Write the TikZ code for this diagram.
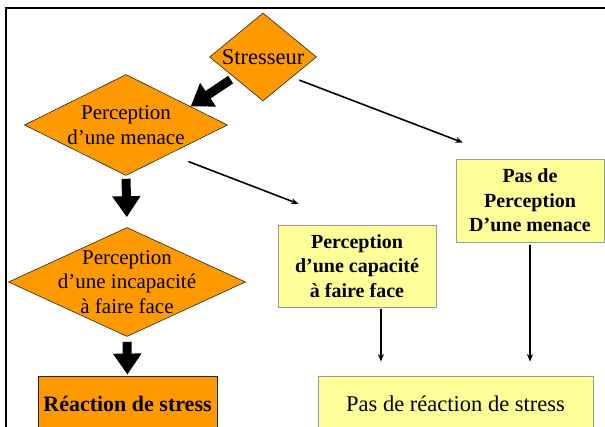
\documentclass[tikz,border=0pt]{standalone}
\usepackage{fontspec}
\setmainfont{Liberation Serif}
\usetikzlibrary{arrows.meta,shapes.geometric,calc}
\definecolor{stressorange}{RGB}{255,153,0}
\definecolor{calmyellow}{RGB}{255,255,153}

\begin{document}
\begin{tikzpicture}[x=1pt,y=-1pt,line cap=round,
                    decision/.style={diamond,fill=stressorange,draw=black!85,line width=0.6pt,inner sep=0pt},
                    dtext/.style={align=center,inner sep=0pt,font=\fontsize{21}{24.5}\selectfont},
                    calmbox/.style={rectangle,fill=calmyellow,draw=black!40,line width=0.8pt,inner sep=0pt,align=center},
                    hotbox/.style={rectangle,fill=stressorange,draw=black!85,line width=0.8pt,inner sep=0pt,align=center},
                    big/.style={-{Triangle[width=27pt,length=21pt]},line width=9pt,line cap=butt},
                    link/.style={-{Stealth[length=7.5pt,width=6pt]},line width=1.6pt},
                ]
  \clip (0,0) rectangle (605,427);
  % frame
  \draw[line width=2pt] (6,440) -- (6,8) -- (620,8);

  % orange decisions
  \node[decision,minimum width=107pt,minimum height=88pt]  (str) at (263,57)  {};
  \node[dtext,font=\fontsize{22.5}{26}\selectfont]        (strt) at (str)   {Stresseur};
  \node[decision,minimum width=203pt,minimum height=101pt] (m1)  at (126,125) {};
  \node[dtext]                                            (m1t) at (m1)    {Perception\\d’une menace};
  \node[decision,minimum width=237pt,minimum height=109pt] (m2)  at (127,282) {};
  \node[dtext]                                            (m2t) at (m2)    {Perception\\d’une incapacité\\à faire face};
  \node[hotbox,minimum width=179pt,minimum height=56pt,font=\bfseries\fontsize{22}{26}\selectfont]
                                                          (r1)  at (127.5,404) {Réaction de stress};

  % yellow boxes
  \node[calmbox,minimum width=148pt,minimum height=83pt,font=\bfseries\fontsize{20}{24.5}\selectfont]
                                                          (p1)  at (530,200.5) {Pas de\\Perception\\D’une menace};
  \node[calmbox,minimum width=158pt,minimum height=82pt,font=\bfseries\fontsize{20}{24.5}\selectfont]
                                                          (c1)  at (357,266)  {Perception\\d’une capacité\\à faire face};
  \node[calmbox,minimum width=275pt,minimum height=56pt,font=\fontsize{22.5}{26}\selectfont]
                                                          (r2)  at (455.5,404) {Pas de réaction de stress};

  \path (str.215)  edge[big,shorten <=4pt]                  (m1.16)
        (m1.south) edge[big,shorten <=3pt,shorten >=10pt]   (m2.north)
        (m2.south) edge[big,shorten <=5pt,shorten >=1pt]    (r1.north)
        (str.-35)  edge[link,shorten <=8pt,shorten >=45pt]  (p1.121)
        (m1.-34)   edge[link,shorten <=21pt,shorten >=58pt] (c1.96)
        (c1.-60)   edge[link,shorten <=2pt,shorten >=14pt]  (c1.-60 |- r2.north)
        (p1.south) edge[link,shorten <=3pt,shorten >=14pt]  (p1.south |- r2.north)
        ;
\end{tikzpicture}
\end{document}
